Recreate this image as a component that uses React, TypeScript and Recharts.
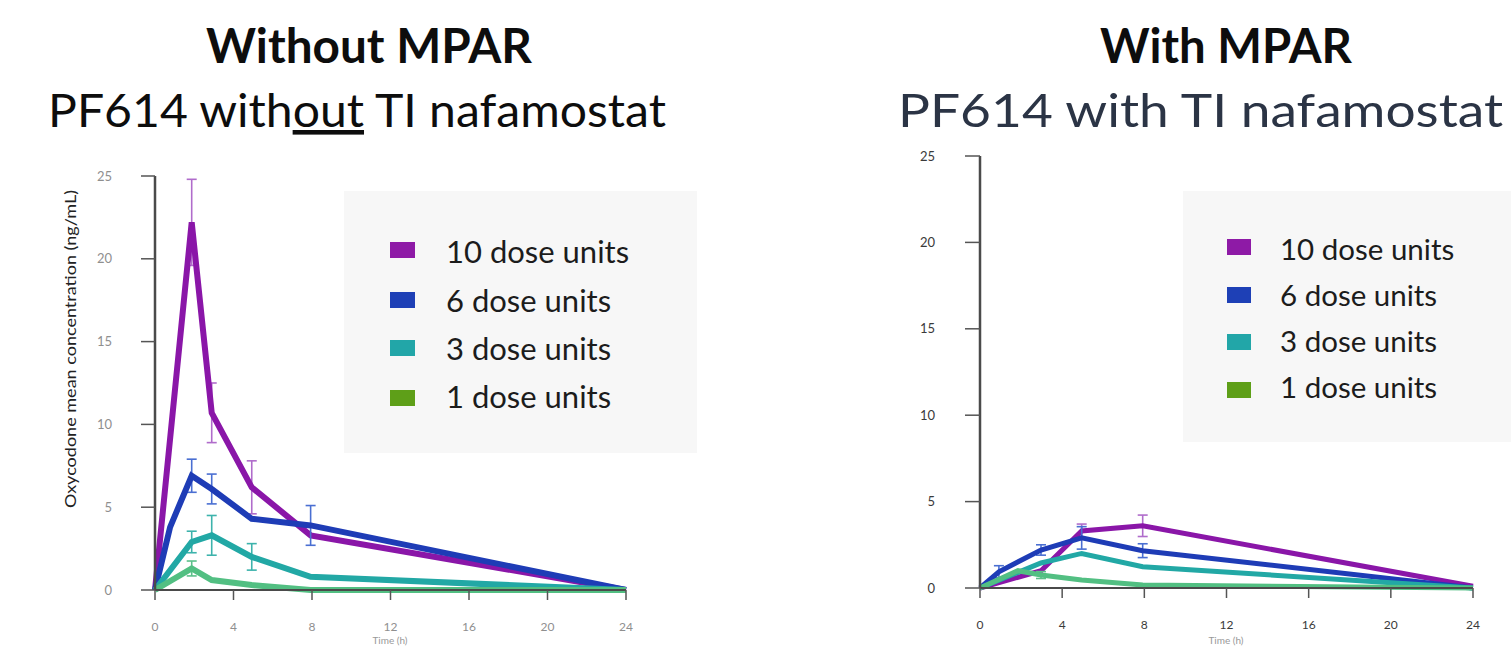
import React from 'react';
import { LineChart, Line, XAxis, YAxis, ErrorBar } from 'recharts';

const SERIES_NAMES = ['10 dose units', '6 dose units', '3 dose units', '1 dose units'];
const LINE_COLORS = ['#8A16A8', '#1E3CB6', '#22A8A5', '#52BF82'];
const LEGEND_COLORS = ['#8E1AA6', '#1E40B6', '#22A6A8', '#5E9F18'];
const ERR_COLORS = ['#B06CCB', '#4A6FD2', '#3DB3AC', '#5CC08A'];

const X_TICKS = [0, 4, 8, 12, 16, 20, 24];
const Y_TICKS = [0, 5, 10, 15, 20, 25];

// Without MPAR (PF614 without TI nafamostat)
const timeLeft = [0, 0.77, 1.87, 2.89, 4.93, 7.93, 24];
const dose10Left = [0, null, 22.2, 10.7, 6.2, 3.3, 0];
const dose10LeftErr = [null, null, 2.6, 1.8, 1.6, null, null];
const dose6Left = [0, 3.8, 6.9, 6.1, 4.3, 3.9, 0];
const dose6LeftErr = [null, null, 1.0, 0.9, null, 1.2, null];
const dose3Left = [0, null, 2.9, 3.3, 2.0, 0.8, 0];
const dose3LeftErr = [null, null, 0.65, 1.2, 0.8, null, null];
const dose1Left = [0, null, 1.3, 0.6, 0.3, 0, 0];
const dose1LeftErr = [null, null, 0.45, null, null, null, null];

// With MPAR (PF614 with TI nafamostat)
const timeRight = [0, 0.92, 1.85, 2.97, 4.95, 7.92, 24];
const dose10Right = [0, null, null, 1.0, 3.3, 3.6, 0.1];
const dose10RightErr = [null, null, null, null, 0.4, 0.62, null];
const dose6Right = [0, 0.94, null, 2.2, 2.9, 2.16, 0];
const dose6RightErr = [null, 0.35, null, 0.3, 0.65, 0.4, null];
const dose3Right = [0, null, null, 1.45, 2.0, 1.23, 0];
const dose3RightErr = [null, null, null, null, null, null, null];
const dose1Right = [0, null, 1.0, 0.75, 0.46, 0.17, 0];
const dose1RightErr = [null, null, null, 0.2, null, null, null];

const buildRows = (times: number[], vals: (number | null)[][], errs: (number | null)[][]) =>
  times.map((t, i) => {
    const row: Record<string, number | null> = { t };
    vals.forEach((v, k) => {
      row['s' + k] = v[i];
      row['e' + k] = errs[k][i];
    });
    return row;
  });

const leftRows = buildRows(
  timeLeft,
  [dose10Left, dose6Left, dose3Left, dose1Left],
  [dose10LeftErr, dose6LeftErr, dose3LeftErr, dose1LeftErr]
);
const rightRows = buildRows(
  timeRight,
  [dose10Right, dose6Right, dose3Right, dose1Right],
  [dose10RightErr, dose6RightErr, dose3RightErr, dose1RightErr]
);

type PanelProps = {
  rows: Record<string, number | null>[];
  width: number;
  margin: { top: number; right: number; bottom: number; left: number };
  strokeWidth: number;
  tickColor: string;
  yTickMargin: number;
  yTickSize: number;
};

const Panel = ({ rows, width, margin, strokeWidth, tickColor, yTickMargin, yTickSize }: PanelProps) => (
  <LineChart width={width} height={647} data={rows} margin={margin}>
    <XAxis
      type="number"
      dataKey="t"
      domain={[0, 24]}
      ticks={X_TICKS}
      interval={0}
      height={30}
      axisLine={{ stroke: '#4a4a4a', strokeWidth: 2 }}
      tickLine={{ stroke: '#555', strokeWidth: 1.5 }}
      tickSize={10}
      tickMargin={22}
      tick={{ fill: tickColor, fontSize: 12, fontFamily: 'Lato' }}
    />
    <YAxis
      type="number"
      domain={[0, 25]}
      ticks={Y_TICKS}
      interval={0}
      width={40}
      axisLine={{ stroke: '#4a4a4a', strokeWidth: 2.5 }}
      tickLine={{ stroke: '#555', strokeWidth: 1.5 }}
      tickSize={yTickSize}
      tickMargin={yTickMargin}
      tick={{ fill: tickColor, fontSize: 13, fontFamily: 'Lato' }}
    />
    {SERIES_NAMES.map((name, k) => (
      <Line
        key={name}
        name={name}
        type="linear"
        dataKey={'s' + k}
        stroke={LINE_COLORS[k]}
        strokeWidth={strokeWidth}
        dot={false}
        connectNulls
        isAnimationActive={false}
      >
        <ErrorBar
          dataKey={'e' + k}
          direction="y"
          width={5}
          strokeWidth={1.6}
          stroke={ERR_COLORS[k]}
          isAnimationActive={false}
        />
      </Line>
    ))}
  </LineChart>
);

const LegendBox = ({ x, y, w, h, sqX, sqW, sqH, sqTops, textX, baselines, fontSize }: any) => (
  <g>
    <rect x={x} y={y} width={w} height={h} fill="#F7F7F7" />
    {SERIES_NAMES.map((name, k) => (
      <g key={name}>
        <rect x={sqX} y={sqTops[k]} width={sqW} height={sqH} fill={LEGEND_COLORS[k]} />
        <text x={textX} y={baselines[k]} fontFamily="Lato" fontSize={fontSize} fill="#1c1c1c">
          {name}
        </text>
      </g>
    ))}
  </g>
);

export default function App() {
  return (
    <div
      style={{
        position: 'absolute',
        left: 0,
        top: 0,
        width: 1511,
        height: 647,
        overflow: 'hidden',
        background: '#fff',
      }}
    >
      <div style={{ position: 'absolute', left: 0, top: 0 }}>
        <Panel
          rows={leftRows}
          width={760}
          margin={{ top: 176, right: 134, bottom: 27, left: 115 }}
          strokeWidth={6}
          tickColor="#8f8f8f"
          yTickMargin={29}
          yTickSize={14}
        />
      </div>
      <div style={{ position: 'absolute', left: 760, top: 0 }}>
        <Panel
          rows={rightRows}
          width={751}
          margin={{ top: 156, right: 38, bottom: 29, left: 180 }}
          strokeWidth={5}
          tickColor="#3a3a3a"
          yTickMargin={30}
          yTickSize={15}
        />
      </div>
      <svg
        width={1511}
        height={647}
        style={{ position: 'absolute', left: 0, top: 0, pointerEvents: 'none' }}
      >
        <text x={206} y={63} fontFamily="Lato" fontWeight={700} fontSize={48} fill="#0d0d0d" textLength={326} lengthAdjust="spacingAndGlyphs">
          Without MPAR
        </text>
        <text x={48} y={127} fontFamily="Lato" fontSize={46} fill="#0d0d0d" textLength={618} lengthAdjust="spacingAndGlyphs">
          PF614 with<tspan textDecoration="underline">out</tspan> TI nafamostat
        </text>
        <text x={1100} y={63} fontFamily="Lato" fontWeight={700} fontSize={48} fill="#0d0d0d" textLength={252} lengthAdjust="spacingAndGlyphs">
          With MPAR
        </text>
        <text x={898} y={127} fontFamily="Lato" fontSize={46} fill="#2B3445" textLength={605} lengthAdjust="spacingAndGlyphs">
          PF614 with TI nafamostat
        </text>
        <text
          transform="translate(76,349) rotate(-90)"
          textAnchor="middle"
          fontFamily="Lato"
          fontSize={16}
          fill="#222"
          textLength={318}
          lengthAdjust="spacingAndGlyphs"
        >
          Oxycodone mean concentration (ng/mL)
        </text>
        <text x={390} y={644} textAnchor="middle" fontFamily="Lato" fontSize={10} fill="#999">
          Time (h)
        </text>
        <text x={1226} y={644} textAnchor="middle" fontFamily="Lato" fontSize={10} fill="#999">
          Time (h)
        </text>
        <LegendBox
          x={344}
          y={191}
          w={353}
          h={262}
          sqX={390}
          sqW={25}
          sqH={16}
          sqTops={[242, 292, 340, 390]}
          textX={446}
          baselines={[263, 312, 360, 408]}
          fontSize={31}
        />
        <LegendBox
          x={1183}
          y={191}
          w={328}
          h={251}
          sqX={1227}
          sqW={24}
          sqH={16}
          sqTops={[239, 287, 334, 382]}
          textX={1280}
          baselines={[260, 306, 352, 398]}
          fontSize={29.5}
        />
      </svg>
    </div>
  );
}
